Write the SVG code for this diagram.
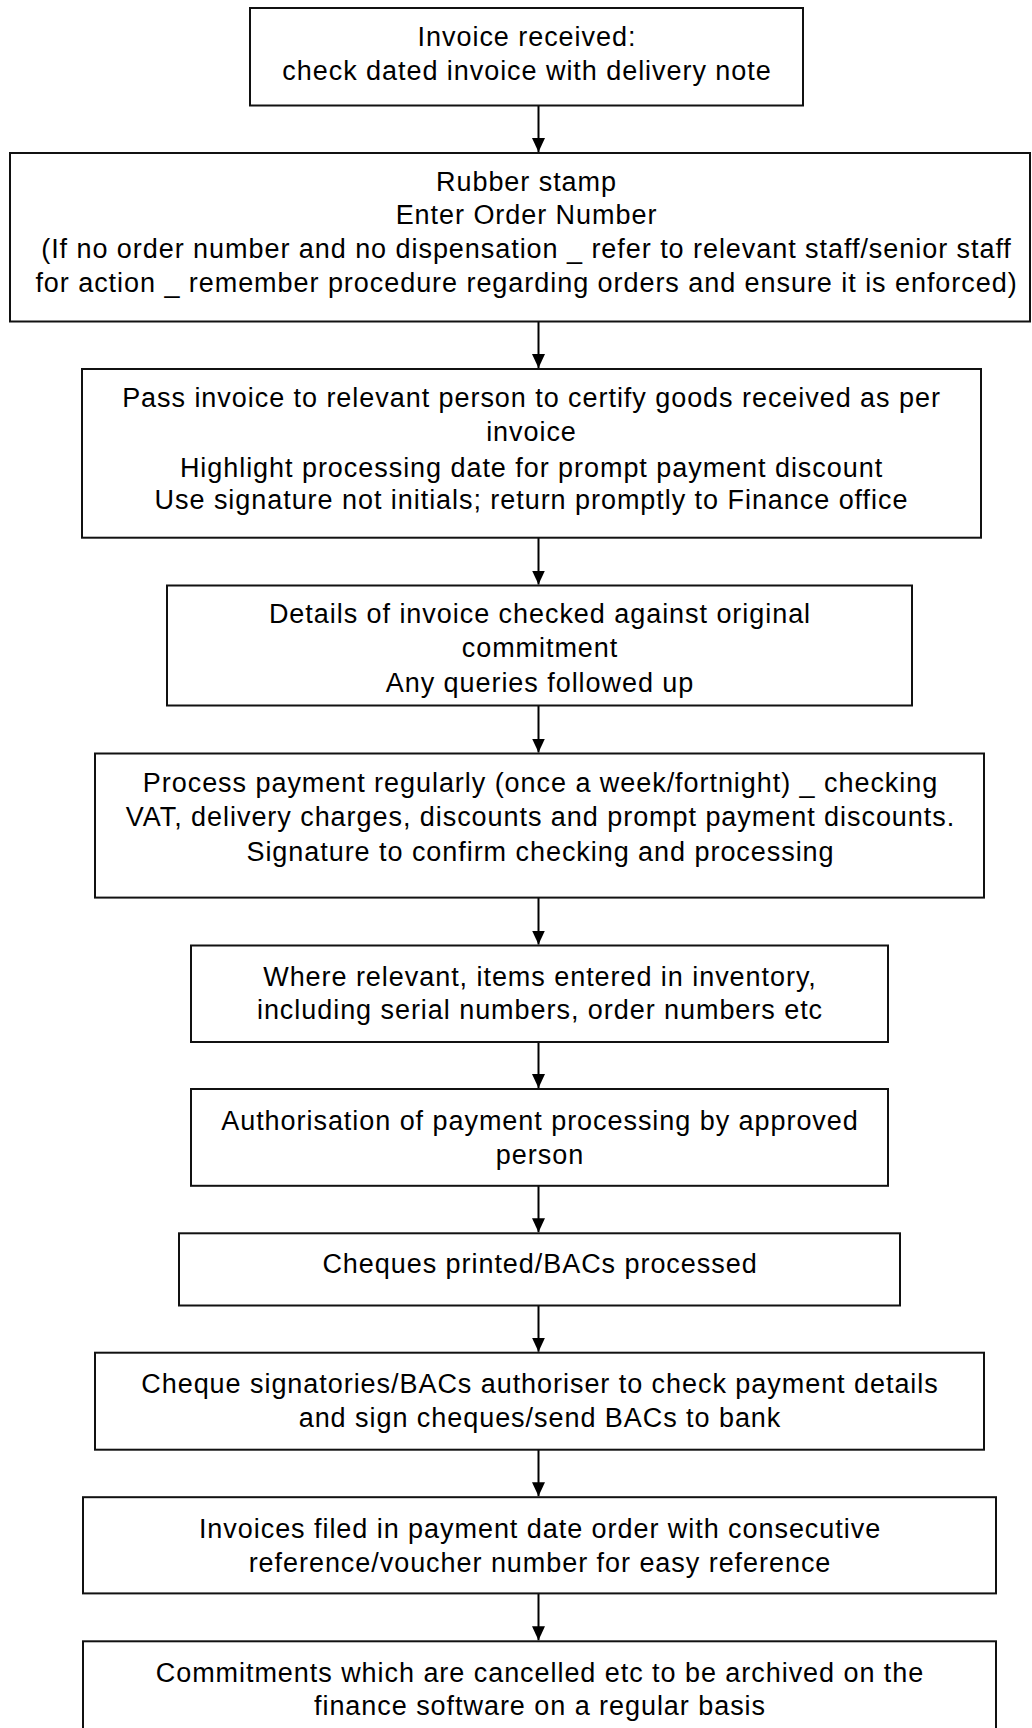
<svg xmlns="http://www.w3.org/2000/svg" width="1032" height="1728" viewBox="0 0 1032 1728">
<defs>
<style>
.box{fill:#fff;stroke:#111;stroke-width:2}
.t{font-family:"Liberation Sans",Arial,sans-serif;font-size:27px;letter-spacing:0.95px;fill:#000;text-anchor:middle}
.c{stroke:#000;stroke-width:2;fill:none}
</style>
<marker id="ah" markerWidth="14" markerHeight="14" refX="14" refY="6.5" orient="auto" markerUnits="userSpaceOnUse">
<path d="M0,0 L14,6.5 L0,13 z" fill="#000"/>
</marker>
</defs>
<rect width="1032" height="1728" fill="#fff"/>
<g id="connectors">
<line class="c" x1="538.5" y1="106" x2="538.5" y2="152" marker-end="url(#ah)"/>
<line class="c" x1="538.5" y1="321.5" x2="538.5" y2="368" marker-end="url(#ah)"/>
<line class="c" x1="538.5" y1="537.7" x2="538.5" y2="584.5" marker-end="url(#ah)"/>
<line class="c" x1="538.5" y1="705.5" x2="538.5" y2="752.5" marker-end="url(#ah)"/>
<line class="c" x1="538.5" y1="897.6" x2="538.5" y2="944.5" marker-end="url(#ah)"/>
<line class="c" x1="538.5" y1="1042" x2="538.5" y2="1088" marker-end="url(#ah)"/>
<line class="c" x1="538.5" y1="1185.8" x2="538.5" y2="1232.3" marker-end="url(#ah)"/>
<line class="c" x1="538.5" y1="1305.5" x2="538.5" y2="1351.7" marker-end="url(#ah)"/>
<line class="c" x1="538.5" y1="1449.7" x2="538.5" y2="1496.2" marker-end="url(#ah)"/>
<line class="c" x1="538.5" y1="1593.4" x2="538.5" y2="1640.3" marker-end="url(#ah)"/>
</g>
<g id="n1">
<rect class="box" x="250" y="8" width="553" height="97.5"/>
<text class="t" x="527" y="46">Invoice received:</text>
<text class="t" x="527" y="79.5">check dated invoice with delivery note</text>
</g>
<g id="n2">
<rect class="box" x="10" y="153" width="1020" height="168.5"/>
<text class="t" x="526.5" y="190.7">Rubber stamp</text>
<text class="t" x="526.5" y="224">Enter Order Number</text>
<text class="t" x="526.5" y="258.3">(If no order number and no dispensation _ refer to relevant staff/senior staff</text>
<text class="t" x="526.5" y="292">for action _ remember procedure regarding orders and ensure it is enforced)</text>
</g>
<g id="n3">
<rect class="box" x="82" y="369" width="899" height="168.7"/>
<text class="t" x="531.5" y="407.3">Pass invoice to relevant person to certify goods received as per</text>
<text class="t" x="531.5" y="440.7">invoice</text>
<text class="t" x="531.5" y="476.7">Highlight processing date for prompt payment discount</text>
<text class="t" x="531.5" y="509.3">Use signature not initials; return promptly to Finance office</text>
</g>
<g id="n4">
<rect class="box" x="167" y="585.5" width="745" height="120"/>
<text class="t" x="540" y="622.7">Details of invoice checked against original</text>
<text class="t" x="540" y="656.7">commitment</text>
<text class="t" x="540" y="691.7">Any queries followed up</text>
</g>
<g id="n5">
<rect class="box" x="95" y="753.5" width="889" height="144.1"/>
<text class="t" x="540.5" y="791.7">Process payment regularly (once a week/fortnight) _ checking</text>
<text class="t" x="540.5" y="826">VAT, delivery charges, discounts and prompt payment discounts.</text>
<text class="t" x="540.5" y="860.7">Signature to confirm checking and processing</text>
</g>
<g id="n6">
<rect class="box" x="191" y="945.5" width="697" height="96.5"/>
<text class="t" x="540" y="985.7">Where relevant, items entered in inventory,</text>
<text class="t" x="540" y="1019.3">including serial numbers, order numbers etc</text>
</g>
<g id="n7">
<rect class="box" x="191" y="1089" width="697" height="96.8"/>
<text class="t" x="540" y="1130">Authorisation of payment processing by approved</text>
<text class="t" x="540" y="1164">person</text>
</g>
<g id="n8">
<rect class="box" x="179" y="1233.3" width="721" height="72.2"/>
<text class="t" x="540" y="1273.3">Cheques printed/BACs processed</text>
</g>
<g id="n9">
<rect class="box" x="95" y="1352.7" width="889" height="97"/>
<text class="t" x="540" y="1393.3">Cheque signatories/BACs authoriser to check payment details</text>
<text class="t" x="540" y="1426.7">and sign cheques/send BACs to bank</text>
</g>
<g id="n10">
<rect class="box" x="83" y="1497.2" width="913" height="96.2"/>
<text class="t" x="540" y="1538.3">Invoices filed in payment date order with consecutive</text>
<text class="t" x="540" y="1571.7">reference/voucher number for easy reference</text>
</g>
<g id="n11">
<rect class="box" x="83" y="1641.3" width="913" height="120"/>
<text class="t" x="540" y="1681.7">Commitments which are cancelled etc to be archived on the</text>
<text class="t" x="540" y="1715">finance software on a regular basis</text>
</g>
</svg>
